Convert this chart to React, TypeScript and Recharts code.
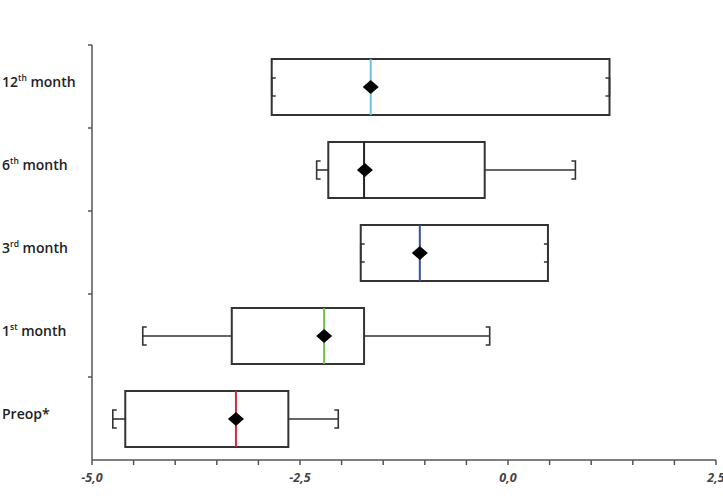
import { ComposedChart, Bar, XAxis, YAxis } from 'recharts';

const CATEGORIES = ['12th month', '6th month', '3rd month', '1st month', 'Preop*'];
const WHISKER_LOW = [-2.84, -2.3, -1.77, -4.39, -4.75];
const Q1 = [-2.84, -2.16, -1.77, -3.32, -4.6];
const MEDIAN = [-1.65, -1.73, -1.06, -2.21, -3.27];
const Q3 = [1.22, -0.28, 0.48, -1.73, -2.64];
const WHISKER_HIGH = [1.22, 0.81, 0.48, -0.22, -2.04];
const MEAN = [-1.65, -1.72, -1.06, -2.21, -3.27];
const MEDIAN_COLORS = ['#6cc6d0', '#222222', '#3452a4', '#6cbf4a', '#d8283c'];

const X_TICKS = [-5, -4.5, -4, -3.5, -3, -2.5, -2, -1.5, -1, -0.5, 0, 0.5, 1, 1.5, 2, 2.5];
const X_LABELED = [-5, -2.5, 0, 2.5];

const data = CATEGORIES.map((name, i) => ({
  name,
  range: [WHISKER_LOW[i], WHISKER_HIGH[i]],
  q1: Q1[i],
  median: MEDIAN[i],
  q3: Q3[i],
  mean: MEAN[i],
  color: MEDIAN_COLORS[i],
}));

const AXIS = '#555';
const INK = '#333';
const PLOT_LEFT = 92;

function BoxShape(props: any) {
  const { x, y, width, height, payload } = props;
  const [low, high] = payload.range;
  const px = (v: number) => x + ((v - low) / (high - low)) * width;
  const cy = y + height / 2;
  const cap = 9;
  const serif = 4;
  const xl = px(low);
  const xh = px(high);
  const x1 = px(payload.q1);
  const x3 = px(payload.q3);
  const xm = px(payload.median);
  const xmean = px(payload.mean);
  return (
    <g>
      <rect x={x1} y={y} width={x3 - x1} height={height} fill="#fff" stroke={INK} strokeWidth={2} />
      {xl < x1 && <line x1={xl} x2={x1} y1={cy} y2={cy} stroke={INK} strokeWidth={1.6} />}
      {xh > x3 && <line x1={x3} x2={xh} y1={cy} y2={cy} stroke={INK} strokeWidth={1.6} />}
      <path
        d={`M${xl + serif},${cy - cap} H${xl} V${cy + cap} H${xl + serif}`}
        fill="none"
        stroke={INK}
        strokeWidth={1.6}
      />
      <path
        d={`M${xh - serif},${cy - cap} H${xh} V${cy + cap} H${xh - serif}`}
        fill="none"
        stroke={INK}
        strokeWidth={1.6}
      />
      <line x1={xm} x2={xm} y1={y} y2={y + height} stroke={payload.color} strokeWidth={2} />
      <path d={`M${xmean - 8},${cy} L${xmean},${cy - 7} L${xmean + 8},${cy} L${xmean},${cy + 7} Z`} fill="#000" />
    </g>
  );
}

function CategoryTick(props: any) {
  const { y, payload } = props;
  const half = payload.offset ?? 41.5;
  const label: string = payload.value;
  const m = label.match(/^(\d+)(st|nd|rd|th)(.*)$/);
  return (
    <g>
      <line x1={PLOT_LEFT - 4} x2={PLOT_LEFT} y1={y - half} y2={y - half} stroke={AXIS} strokeWidth={1.5} />
      <text
        x={2}
        y={y}
        textAnchor="start"
        fill="#222"
        fontSize={14}
        fontWeight={600}
        fontFamily="'Open Sans', sans-serif"
      >
        {m ? (
          <>
            <tspan>{m[1]}</tspan>
            <tspan dy={-6} fontSize={8.5}>{m[2]}</tspan>
            <tspan dy={6}>{m[3]}</tspan>
          </>
        ) : (
          label
        )}
      </text>
    </g>
  );
}

const fmt = (v: number) => (X_LABELED.includes(v) ? v.toFixed(1).replace('.', ',') : '');

export default function App() {
  return (
    <div style={{ position: 'absolute', left: 0, top: 0, background: '#fff' }}>
      <ComposedChart
        width={723}
        height={496}
        data={data}
        layout="vertical"
        margin={{ top: 45, right: 7, left: 0, bottom: 6 }}
      >
        <XAxis
          type="number"
          domain={[-5, 2.5]}
          ticks={X_TICKS}
          interval={0}
          tickFormatter={fmt}
          allowDataOverflow
          height={30}
          axisLine={{ stroke: AXIS, strokeWidth: 1.5 }}
          tickLine={{ stroke: AXIS, strokeWidth: 1.5 }}
          tickSize={5}
          tickMargin={8}
          tick={{ fill: '#444', fontSize: 12.5, fontWeight: 700, fontStyle: 'italic', fontFamily: "'Open Sans', sans-serif" }}
        />
        <YAxis
          type="category"
          dataKey="name"
          width={PLOT_LEFT}
          axisLine={{ stroke: AXIS, strokeWidth: 1.5 }}
          tickLine={false}
          tick={<CategoryTick />}
          interval={0}
        />
        <Bar dataKey="range" barSize={56} shape={<BoxShape />} isAnimationActive={false} />
      </ComposedChart>
    </div>
  );
}
